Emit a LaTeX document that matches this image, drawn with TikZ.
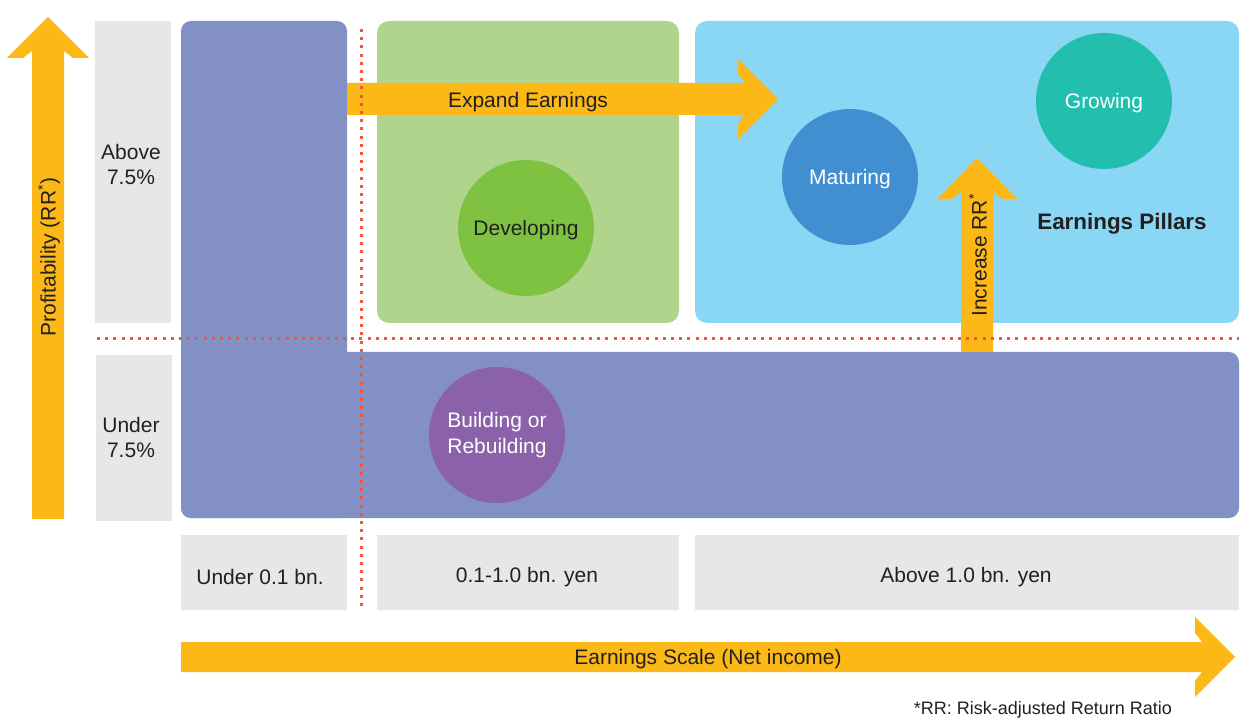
\documentclass[tikz,border=0pt]{standalone}
\usepackage{fontspec}
\setmainfont{Liberation Sans}
\definecolor{ink}{RGB}{35,31,32}
\definecolor{greybox}{RGB}{230,231,232}
\definecolor{lowband}{RGB}{130,144,198}
\definecolor{midfield}{RGB}{176,212,140}
\definecolor{topfield}{RGB}{138,214,245}
\definecolor{developing}{RGB}{127,194,66}
\definecolor{maturing}{RGB}{65,143,208}
\definecolor{growing}{RGB}{34,191,175}
\definecolor{building}{RGB}{139,98,170}
\definecolor{arrowfill}{RGB}{251,184,23}
\definecolor{divider}{RGB}{240,86,60}
\tikzset{>=latex}
\tikzset{
    lbl/.style={font=\fontsize{10.5}{12.5}\selectfont, text=ink, align=center},
    stage/.style={circle, minimum size=68pt, inner sep=0pt, text=white, align=center,
        font=\fontsize{10.5}{13}\selectfont},
    divline/.style={divider, line width=1.5pt, dash pattern=on 1.5pt off 2.6pt}
}

\begin{document}
\begin{tikzpicture}[x=0.5pt, y=-0.5pt]
    \useasboundingbox (0,0) rectangle (1254,727);
    % grey headers
    \fill [greybox] (95,21) rectangle (171,323);
    \fill [greybox] (96,355) rectangle (172,521);
    \fill [greybox] (181,535) rectangle (347,610);
    \fill [greybox] (377,535) rectangle (679,610);
    \fill [greybox] (695,535) rectangle (1239,610);
    % fields
    \fill [lowband, rounded corners=5pt] (181,21) rectangle (347,518);
    \fill [lowband, rounded corners=5pt] (181,352) rectangle (1239,518);
    \fill [midfield, rounded corners=6pt] (377,21) rectangle (679,323);
    \fill [topfield, rounded corners=6pt] (695,21) rectangle (1239,323);
    % big arrows
    \fill [arrowfill] (32,519) -- (32,51) -- (23,58) -- (7,58) -- (48,17) -- (89,58) -- (73,58) -- (64,51) -- (64,519) -- cycle;
    \fill [arrowfill] (347,83) -- (745,83) -- (738,74) -- (738,59) -- (778,99) -- (738,139) -- (738,124) -- (745,115) -- (347,115) -- cycle;
    \fill [arrowfill] (961,352) -- (961,192) -- (952,199) -- (937,199) -- (977,158) -- (1017,199) -- (1002,199) -- (993,192) -- (993,352) -- cycle;
    \fill [arrowfill] (181,642) -- (1202,642) -- (1195,633) -- (1195,617) -- (1235,657) -- (1195,697) -- (1195,681) -- (1202,672) -- (181,672) -- cycle;
    % dotted dividers
    \draw [divline] (97,339) -- (1239,339);
    \draw [divline] (361,29) -- (361,608);
    % stages
    \node [stage, fill=developing, text=ink, text depth=0pt] (dev) at (526,228) {Developing};
    \node [stage, fill=maturing, text depth=0pt] (mat) at (850,177) {Maturing};
    \node [stage, fill=growing, text depth=0pt] (grow) at (1104,101) {Growing};
    \node [stage, fill=building] (build) at (497,435) {Building or\\Rebuilding};
    % labels
    \node [lbl] (above) at (131,164) {Above\\7.5\%};
    \node [lbl] (under) at (131,437) {Under\\7.5\%};
    \node [lbl] (small) at (260,577) {Under 0.1 bn.};
    \node [lbl] (mid) at (527,577) {0.1-1.0 bn. yen};
    \node [lbl] (large) at (966,577) {Above 1.0 bn. yen};
    \node [lbl] (expand) at (528,102) {Expand Earnings};
    \node [lbl, rotate=90] (incr) at (978,255) {Increase RR\textsuperscript{\scriptsize*}};
    \node [lbl, rotate=90] (profit) at (49,257) {Profitability (RR\textsuperscript{\scriptsize*})};
    \node [lbl] (scale) at (708,659) {Earnings Scale (Net income)};
    \node [lbl, font=\bfseries\fontsize{11.2}{13}\selectfont] (pillars) at (1122,224) {Earnings Pillars};
    \node [lbl, font=\fontsize{9}{11}\selectfont, anchor=east] (note) at (1179,710) {*RR: Risk-adjusted Return Ratio};
\end{tikzpicture}
\end{document}
